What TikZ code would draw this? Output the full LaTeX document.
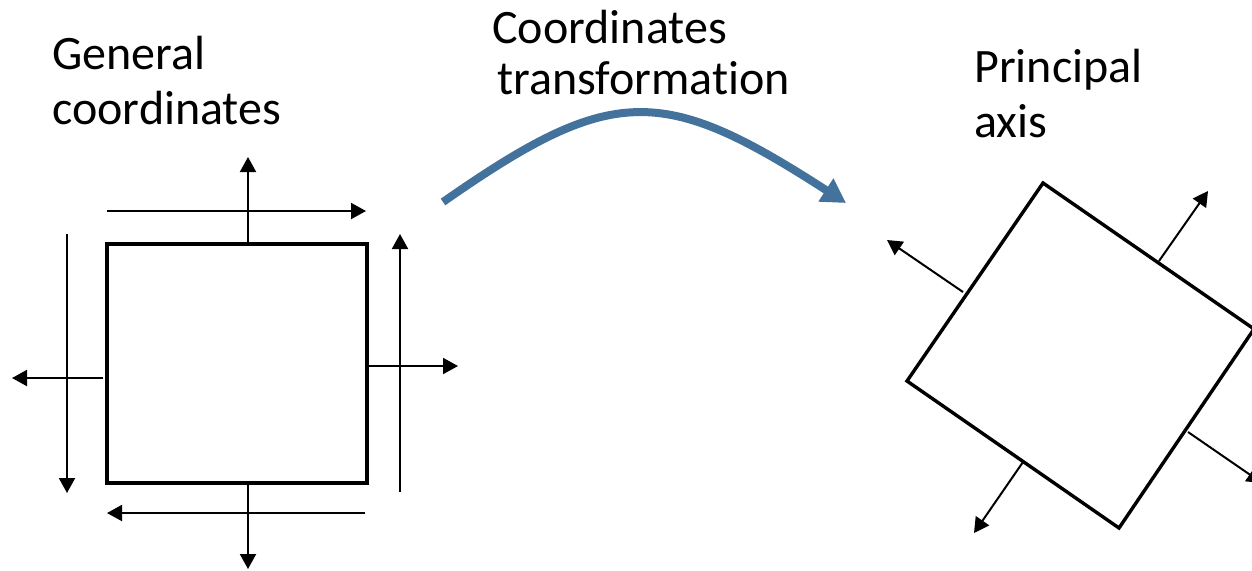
\documentclass[tikz,border=0pt]{standalone}
\usepackage{fontspec}
\setmainfont{Carlito}[Ligatures={NoCommon}]
\usetikzlibrary{arrows.meta}
\definecolor{arrowblue}{RGB}{67,114,157}
\tikzset{
  lbl/.style={anchor=base west, inner sep=0pt, font=\fontsize{24}{28}\selectfont},
  plate/.style={draw=black, line width=1.7pt, line join=miter},
  force/.style={draw=black, line width=1pt, -{Triangle[length=7.5pt,width=8pt]}},
  bigarrow/.style={draw=arrowblue, line width=4pt, -{Triangle[length=12pt,width=13pt]}}
}
\begin{document}
\begin{tikzpicture}[x=0.5pt, y=-0.5pt]
\useasboundingbox (0,0) rectangle (1252,570);
% labels
\node[lbl] (g1) at (52,69) {General};
\node[lbl] (g2) at (52,124) {coordinates};
\node[lbl] (c1) at (492,43) {Coordinates};
\node[lbl] (c2) at (497,94) {transformation};
\node[lbl] (p1) at (974,82) {Principal};
\node[lbl] (p2) at (974,137) {axis};
% left square
\coordinate (sq1) at (107,244);
\coordinate (sq2) at (367,483);
\draw[plate] (sq1) rectangle (sq2);
% arrows around left square
\coordinate (t0) at (248,244); \coordinate (t1) at (248,157);
\coordinate (th0) at (107,211); \coordinate (th1) at (366,211);
\coordinate (lv0) at (67,234); \coordinate (lv1) at (67,493);
\coordinate (lh0) at (103,378); \coordinate (lh1) at (12,378);
\coordinate (rv0) at (400,492); \coordinate (rv1) at (400,234);
\coordinate (rh0) at (367,366); \coordinate (rh1) at (458,366);
\coordinate (bh0) at (365,513); \coordinate (bh1) at (107,513);
\coordinate (b0) at (248,483); \coordinate (b1) at (248,569);
\draw[force] (t0) -- (t1);
\draw[force] (th0) -- (th1);
\draw[force] (lv0) -- (lv1);
\draw[force] (lh0) -- (lh1);
\draw[force] (rv0) -- (rv1);
\draw[force] (rh0) -- (rh1);
\draw[force] (bh0) -- (bh1);
\draw[force] (b0) -- (b1);
% curved transformation arrow
\coordinate (ca0) at (443,202);
\coordinate (ca1) at (846,203);
\draw[bigarrow] (ca0) .. controls (612,84) and (662,84) .. (ca1);
% rotated square
\coordinate (r1) at (1043,183);
\coordinate (r2) at (1254,329);
\coordinate (r3) at (1119,528);
\coordinate (r4) at (907,381);
\draw[plate] (r1) -- (r2) -- (r3) -- (r4) -- cycle;
% principal stress arrows
\coordinate (a10) at (963,292); \coordinate (a11) at (887,240);
\coordinate (a20) at (1159,261); \coordinate (a21) at (1208,191);
\coordinate (a30) at (1188,432); \coordinate (a31) at (1262,483);
\coordinate (a40) at (1023,462); \coordinate (a41) at (974,533);
\draw[force] (a10) -- (a11);
\draw[force] (a20) -- (a21);
\draw[force] (a30) -- (a31);
\draw[force] (a40) -- (a41);
\end{tikzpicture}
\end{document}
